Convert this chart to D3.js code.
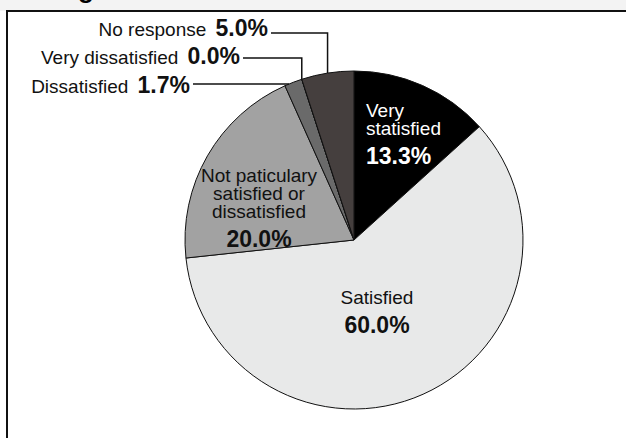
<!DOCTYPE html>
<html>
<head>
<meta charset="utf-8">
<script src="https://cdn.jsdelivr.net/npm/d3@7"></script>
<style>
  body { margin: 0; background: #fff; }
  svg { display: block; font-family: "Liberation Sans", Arial, Helvetica, sans-serif; }
</style>
</head>
<body>
<div id="chart"></div>
<script>
// survey answers, clockwise from 12 o'clock
const categories = ["Very satisfied", "Satisfied", "Not particularly satisfied or dissatisfied", "Dissatisfied", "Very dissatisfied", "No response"];
const shares = [13.3, 60.0, 20.0, 1.7, 0.0, 5.0];
const labelLines = [["Very", "statisfied"], ["Satisfied"], ["Not paticulary", "satisfied or", "dissatisfied"], ["Dissatisfied"], ["Very dissatisfied"], ["No response"]];
const colors = ["#000000", "#e8e9e9", "#a2a2a2", "#6a6a6a", "#555555", "#453f3e"];

const width = 626, height = 438;
const cx = 354, cy = 240, r = 169;

const svg = d3.select("#chart").append("svg")
    .attr("width", width)
    .attr("height", height);

// grey strip at top and cropped title
svg.append("rect").attr("x", 0).attr("y", 0).attr("width", width).attr("height", 11).attr("fill", "#f3f3f3");
svg.append("text").attr("x", 78).attr("y", -2).attr("font-size", 26).attr("font-weight", "bold").text("g");

// frame
svg.append("rect")
    .attr("x", 7).attr("y", 11)
    .attr("width", 700).attr("height", 500)
    .attr("fill", "#fff")
    .attr("stroke", "#111")
    .attr("stroke-width", 2);

const pie = d3.pie().sort(null).value(d => d);
const arcs = pie(shares);
const arc = d3.arc().innerRadius(0).outerRadius(r);

const g = svg.append("g").attr("transform", "translate(" + cx + "," + cy + ")");

g.selectAll("path")
    .data(arcs)
    .enter().append("path")
    .attr("d", arc)
    .attr("fill", (d, i) => colors[i])
    .attr("stroke", "#111")
    .attr("stroke-width", 1);

const fmt = v => v.toFixed(1) + "%";

// labels inside the pie (offsets from centre)
let inside = [
    {i: 0, x: 12, y: -123, anchor: "start", fill: "#fff"},
    {i: 1, x: 23, y: 64, anchor: "middle", fill: "#111"},
    {i: 2, x: -95, y: -58, anchor: "middle", fill: "#111"}
];

inside.forEach(function (p) {
    let t = g.append("text")
        .attr("text-anchor", p.anchor)
        .attr("fill", p.fill);
    labelLines[p.i].forEach(function (line, k) {
        t.append("tspan")
            .attr("x", p.x)
            .attr("y", p.y + k * 18)
            .attr("font-size", 19)
            .text(line);
    });
    t.append("tspan")
        .attr("x", p.x)
        .attr("y", p.y + (labelLines[p.i].length - 1) * 18 + 29)
        .attr("font-size", 23)
        .attr("font-weight", "bold")
        .text(fmt(shares[p.i]));
});

// labels outside, with leader lines
let outside = [
    {i: 5, x: 268, y: 36, ly: 33, angle: d => (d.startAngle + d.endAngle) / 2},
    {i: 4, x: 240, y: 64, ly: 58, angle: d => d.startAngle},
    {i: 3, x: 190, y: 93, ly: 84, angle: null}
];

outside.forEach(function (p) {
    let t = svg.append("text")
        .attr("x", p.x)
        .attr("y", p.y)
        .attr("text-anchor", "end")
        .attr("fill", "#111");
    t.append("tspan").attr("font-size", 19).text(labelLines[p.i][0] + " ");
    t.append("tspan").attr("font-size", 23).attr("font-weight", "bold").attr("dx", 4).text(fmt(shares[p.i]));

    let pts;
    if (p.angle) {
        let a = p.angle(arcs[p.i]);
        let ex = cx + r * Math.sin(a), ey = cy - r * Math.cos(a);
        pts = [[p.x + 3, p.ly], [ex, p.ly], [ex, ey]];
    } else {
        let dy = p.ly - cy;
        let ex = cx - Math.sqrt(r * r - dy * dy);
        pts = [[p.x + 3, p.ly], [ex, p.ly]];
    }
    svg.append("path")
        .attr("d", d3.line()(pts))
        .attr("fill", "none")
        .attr("stroke", "#111")
        .attr("stroke-width", 1.5);
});
</script>
</body>
</html>
